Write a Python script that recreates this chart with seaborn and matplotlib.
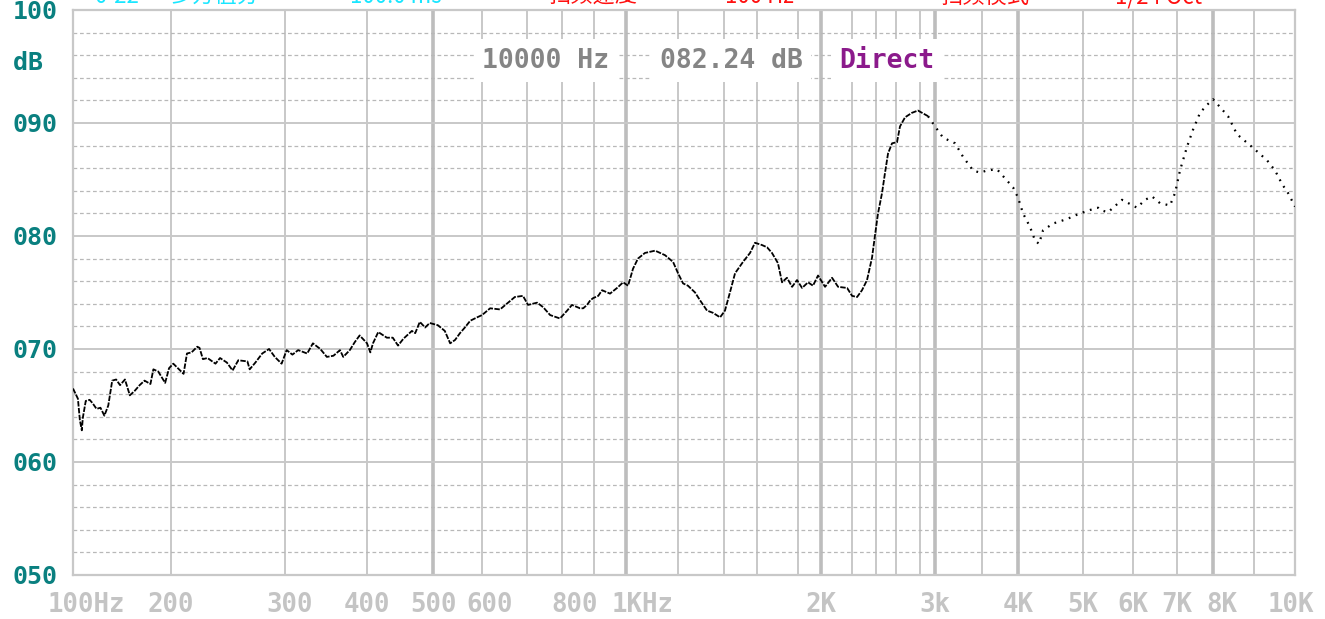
import numpy as np
import pandas as pd
import matplotlib.pyplot as plt
from matplotlib.transforms import ScaledTranslation, blended_transform_factory
import seaborn as sns

# measured response (Hz, dB)
freq_hz = [
    100, 105, 107, 109, 110, 113, 117, 120, 124, 128, 132, 136, 140, 144, 148, 153,
    158, 163, 168, 173, 179, 182, 187, 194, 198, 202, 208, 211, 214, 218, 223, 225,
    228, 232, 239, 243, 249, 254, 259, 267, 269, 274, 280, 286, 291, 297, 302, 309,
    316, 327, 334, 343, 351, 359, 367, 371, 379, 385, 391, 400, 405, 409, 417, 430,
    439, 447, 455, 468, 473, 480, 488, 495, 510, 524, 535, 545, 555, 565, 576, 590,
    600, 618, 640, 658, 673, 691, 703, 729, 746, 766, 794, 816, 831, 856, 866, 878,
    888, 897, 913, 925, 950, 972, 991, 1008, 1027, 1046, 1073, 1112, 1150, 1181, 1200,
    1222, 1243, 1274, 1296, 1326, 1352, 1383, 1406, 1436, 1467, 1515, 1558, 1588,
    1624, 1649, 1673, 1702, 1722, 1746, 1771, 1795, 1835, 1887, 1930, 1974, 2026,
    2071, 2110, 2168, 2200, 2242, 2283, 2325, 2367, 2392, 2420, 2460, 2490, 2520,
    2560, 2608, 2633, 2675, 2733, 2783, 2907, 3000, 3085, 3213, 3298, 3404, 3479,
    3569, 3708, 3819, 3931, 4000, 4077, 4185, 4262, 4323, 4385, 4538, 4754, 4954,
    5140, 5300, 5340, 5500, 5780, 6091, 6273, 6432, 6614, 6841, 6955, 7083, 7278,
    7444, 7639, 7833, 8000, 8171, 8366, 8585, 8780, 8976, 9317, 9512, 9683, 9829, 10000,
]
level_db = [
    66.5, 65.6, 63.7, 62.8, 63.9, 65.4, 65.5, 65.2, 64.7, 64.8, 64.1, 65.0, 67.2, 67.3, 66.8, 67.3,
    65.9, 66.3, 66.8, 67.2, 66.9, 68.2, 68.0, 67.0, 68.3, 68.7, 68.1, 67.8, 69.6, 69.7, 70.2, 70.1,
    69.1, 69.2, 68.7, 69.2, 68.8, 68.1, 69.0, 68.9, 68.2, 68.8, 69.6, 70.0, 69.3, 68.7, 69.9, 69.5,
    69.9, 69.6, 70.5, 70.0, 69.3, 69.4, 69.9, 69.3, 69.9, 70.6, 71.2, 70.5, 69.7, 70.5, 71.5, 71.0,
    71.0, 70.3, 70.9, 71.6, 71.4, 72.4, 71.9, 72.3, 72.1, 71.6, 70.5, 70.8, 71.4, 71.9, 72.5, 72.8,
    73.0, 73.6, 73.5, 74.1, 74.6, 74.7, 73.9, 74.1, 73.7, 73.0, 72.7, 73.4, 73.9, 73.6, 73.6, 73.9,
    74.3, 74.5, 74.7, 75.2, 74.9, 75.4, 75.9, 75.6, 77.1, 78.0, 78.5, 78.7, 78.3, 77.7, 76.7,
    75.8, 75.6, 75.0, 74.3, 73.4, 73.2, 72.8, 73.4, 75.0, 76.7, 77.7, 78.5, 79.4,
    79.2, 79.0, 78.5, 77.6, 75.9, 76.3, 75.5, 76.1, 75.4, 75.9, 75.6, 76.5, 75.5,
    76.3, 75.5, 75.4, 74.7, 74.6, 75.2, 76.1, 78.1, 80.1, 82.0, 83.8, 85.6, 87.3,
    88.2, 88.3, 89.7, 90.5, 90.9, 91.1, 90.6, 89.7, 88.7, 88.2, 87.0, 85.8, 85.6,
    85.8, 85.9, 85.1, 84.3, 83.4, 82.0, 80.8, 79.6, 79.3, 80.5, 81.1, 81.5, 82.0,
    82.3, 82.5, 82.3, 82.1, 83.2, 82.5, 83.2, 83.5, 82.9, 82.7, 83.8, 85.8, 87.9,
    89.4, 90.9, 91.6, 92.1, 91.4, 90.6, 89.0, 88.4, 87.8, 86.7, 85.8, 84.6, 83.8, 82.6,
]

# analyzer frequency axis: grid frequencies and where they sit along the axis (0..1)
grid_freqs = [100, 200, 300, 400, 500, 600, 700, 800, 900, 1000, 1200, 1400, 1600, 1800,
              2000, 2200, 2400, 2600, 2800, 3000, 3500, 4000, 5000, 6000, 7000, 8000, 9000, 10000]
grid_pos = [0.0, 0.0802, 0.1735, 0.2406, 0.2946, 0.3347, 0.3715, 0.4002, 0.4264, 0.4525,
            0.4951, 0.5327, 0.5597, 0.5933, 0.6121, 0.6375, 0.6571, 0.6735, 0.6931, 0.7054,
            0.7439, 0.7733, 0.8265, 0.8674, 0.9034, 0.9329, 0.9664, 1.0]
thick_freqs = [500, 1000, 2000, 3000, 4000, 8000]

x_ticks = [100, 200, 300, 400, 500, 600, 800, 1000, 2000, 3000, 4000, 5000, 6000, 7000, 8000, 10000]
x_labels = ["100Hz", "200", "300", "400", "500", "600", "800", "1KHz",
            "2K", "3k", "4K", "5K", "6K", "7K", "8K", "10K"]
x_label_shift = {"100Hz": 13, "300": 5, "600": 8, "800": 13, "1KHz": 17, "8K": 9, "10K": -4}

y_ticks = [50, 60, 70, 80, 90, 95.5, 100]
y_labels = ["050", "060", "070", "080", "090", "dB ", "100"]

readout = ["10000 Hz", "082.24 dB", "Direct"]
readout_colors = ["#858585", "#858585", "#8b1a8b"]
readout_x = [0.387, 0.5385, 0.666]


def fwd(f):
    return np.interp(f, grid_freqs, grid_pos)


def inv(p):
    return np.interp(p, grid_pos, grid_freqs)


sns.set_theme(style="white")
plt.rcParams["font.family"] = ["DejaVu Sans Mono", "DejaVu Sans"]

df = pd.DataFrame({"freq": freq_hz, "db": level_db})
low = df[df["freq"] <= 2907]
high = df[df["freq"] >= 2907]

fig = plt.figure(figsize=(13.25, 6.19), dpi=100)
ax = fig.add_axes([0.0551, 0.0711, 0.9223, 0.9128])
ax.set_xscale("function", functions=(fwd, inv))
ax.set_xlim(100, 10000)
ax.set_ylim(50, 100)

grid_col = "#c8c8c8"
for f in grid_freqs[1:-1]:
    if f in thick_freqs:
        ax.axvline(f, color="#bdbdbd", lw=2.6, zorder=1)
    else:
        ax.axvline(f, color=grid_col, lw=1.4, zorder=1)
for d in range(52, 100, 2):
    if d % 10 == 0:
        ax.axhline(d, color=grid_col, lw=1.4, zorder=1)
    else:
        ax.axhline(d, color="#b8b8b8", lw=0.9, linestyle=(0, (3, 2.2)), zorder=1)

for s in ax.spines.values():
    s.set_color(grid_col)
    s.set_linewidth(1.6)

sns.lineplot(data=low, x="freq", y="db", ax=ax, color="black", lw=1.3,
             linestyle=(0, (3, 0.8)), sort=False, estimator=None, zorder=3)
sns.lineplot(data=high, x="freq", y="db", ax=ax, color="black", lw=1.6,
             linestyle=(0, (0.8, 2.6)), sort=False, estimator=None, zorder=3)

ax.set_xticks(x_ticks)
ax.set_xticklabels(x_labels)
ax.xaxis.set_minor_locator(plt.NullLocator())
ax.set_yticks(y_ticks)
ax.set_yticklabels(y_labels)
ax.tick_params(axis="x", length=0, pad=12, labelsize=18.5, labelcolor="#c4c4c4")
ax.tick_params(axis="y", length=0, pad=11, labelsize=18, labelcolor="#0a8080")
for lab in ax.get_xticklabels() + ax.get_yticklabels():
    lab.set_fontweight("bold")
for lab in ax.get_xticklabels():
    dx = x_label_shift.get(lab.get_text(), 0)
    if dx:
        lab.set_transform(lab.get_transform() + ScaledTranslation(dx / 100, 0, fig.dpi_scale_trans))
ax.set_xlabel("")
ax.set_ylabel("")

# readout boxes
blend = blended_transform_factory(ax.transAxes, ax.transData)
box = dict(facecolor="white", edgecolor="none", pad=6)
for txt, col, xp in zip(readout, readout_colors, readout_x):
    ax.text(xp, 95.5, txt, transform=blend, fontsize=19, fontweight="bold",
            color=col, ha="center", va="center", bbox=box, zorder=4)

# header line, cut off by the top of the window
cjk = ["Noto Sans CJK SC", "DejaVu Sans"]
top_y = 1 - 8 / 619
header = [
    (95, "0-22", "#19e6ff"),
    (170, "多方值分", "#19e6ff"),
    (350, "100.0 ms", "#19e6ff"),
    (548, "扫频速度", "#ff1010"),
    (725, "100 Hz", "#ff1010"),
    (940, "扫频模式", "#ff1010"),
    (1115, "1/24 Oct", "#ff1010"),
]
for xp, txt, col in header:
    fig.text(xp / 1325, top_y, txt, color=col, fontsize=16, family=cjk, va="bottom")

fig.savefig("out.png", dpi=100)
plt.close(fig)
